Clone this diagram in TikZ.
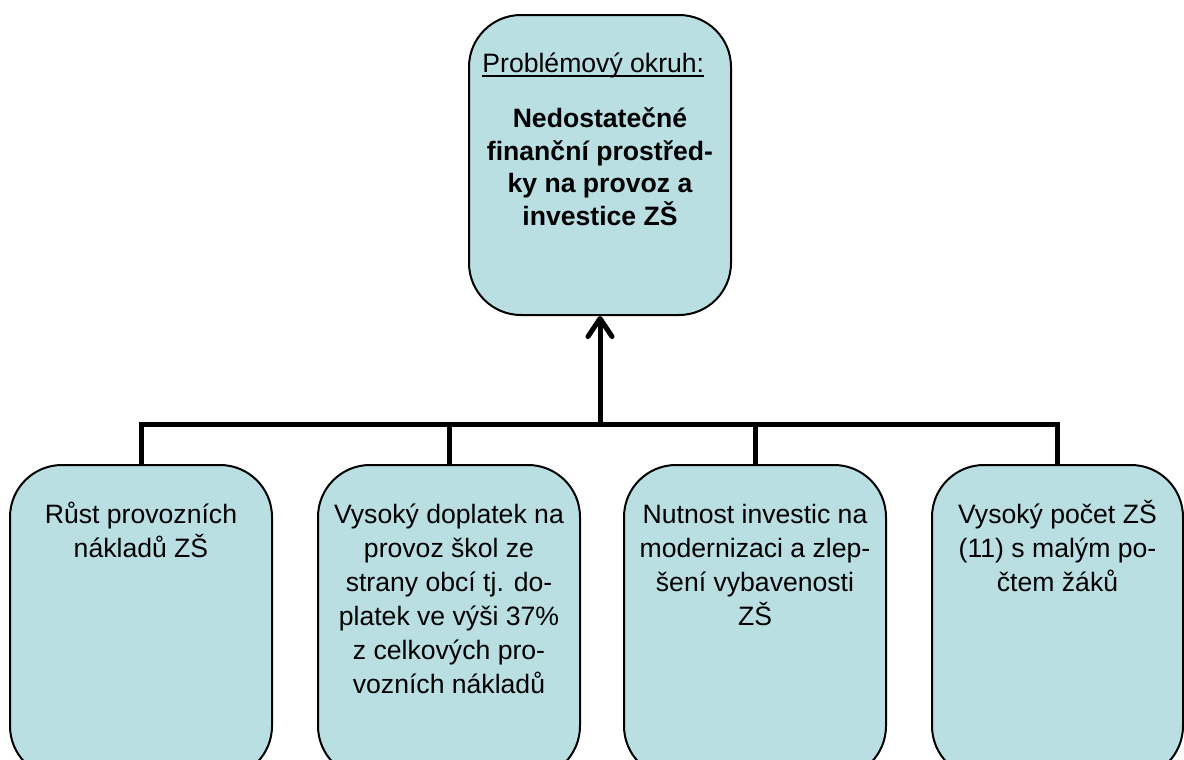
\documentclass[tikz,border=0pt]{standalone}
\usepackage{fontspec}
\setmainfont{Liberation Sans}
\usetikzlibrary{arrows.meta}

\definecolor{boxfill}{RGB}{185,223,227}
\newcommand{\headul}[1]{\setbox0=\hbox{#1}\rlap{\rule[-2.6pt]{\wd0}{0.9pt}}\box0}

\tikzset{
  box/.style={draw, line width=1pt, fill=boxfill, rounded corners=26pt,
    minimum width=131pt, minimum height=156.5pt, inner sep=0pt},
  txt/.style={font=\fontsize{13.3pt}{17pt}\selectfont, align=center,
    inner sep=0pt, anchor=north},
  conn/.style={line width=2.5pt},
}

\begin{document}
\begin{tikzpicture}[x=0.5pt, y=-0.5pt]
\clip (0,0) rectangle (1184,760);
% Nodes
\node[box, minimum height=150pt] (top) at (600,165) {};
\node[box] (b1) at (141,621.5) {};
\node[box] (b2) at (449,621.5) {};
\node[box] (b3) at (755,621.5) {};
\node[box, minimum width=125.5pt] (b4) at (1057.5,621.5) {};
% Texts
\node[anchor=base west, inner sep=0pt, font=\fontsize{13.3pt}{17pt}\selectfont] (head) at (482,72) {\headul{Problémový okruh:}};
\node[txt, font=\fontsize{13.3pt}{16.4pt}\selectfont\bfseries] (title) at (600,104) {\strut Nedostatečné\\finanční prostřed-\\ky na provoz a\\investice ZŠ};
\node[txt] (t1) at ([yshift=-17.5pt]b1.north) {\strut Růst provozních\\nákladů ZŠ};
\node[txt] (t2) at ([yshift=-17.5pt]b2.north) {\strut Vysoký doplatek na\\provoz škol ze\\strany obcí tj. do-\\platek ve výši 37\%\\z celkových pro-\\vozních nákladů};
\node[txt] (t3) at ([yshift=-17.5pt]b3.north) {\strut Nutnost investic na\\modernizaci a zlep-\\šení vybavenosti\\ZŠ};
\node[txt] (t4) at ([yshift=-17.5pt]b4.north) {\strut Vysoký počet ZŠ\\(11) s malým po-\\čtem žáků};
% Edges
\coordinate (hub) at ([yshift=20pt]b1.north -| top.south);
\draw[conn] (b1.north) |- (hub) -| (b4.north);
\draw[conn] (b2.north) -- (b2.north |- hub);
\draw[conn] (b3.north) -- (b3.north |- hub);
\draw[conn, -{Straight Barb[length=9pt, width=12pt, round]}] (hub) -- (top.south);
\end{tikzpicture}
\end{document}
